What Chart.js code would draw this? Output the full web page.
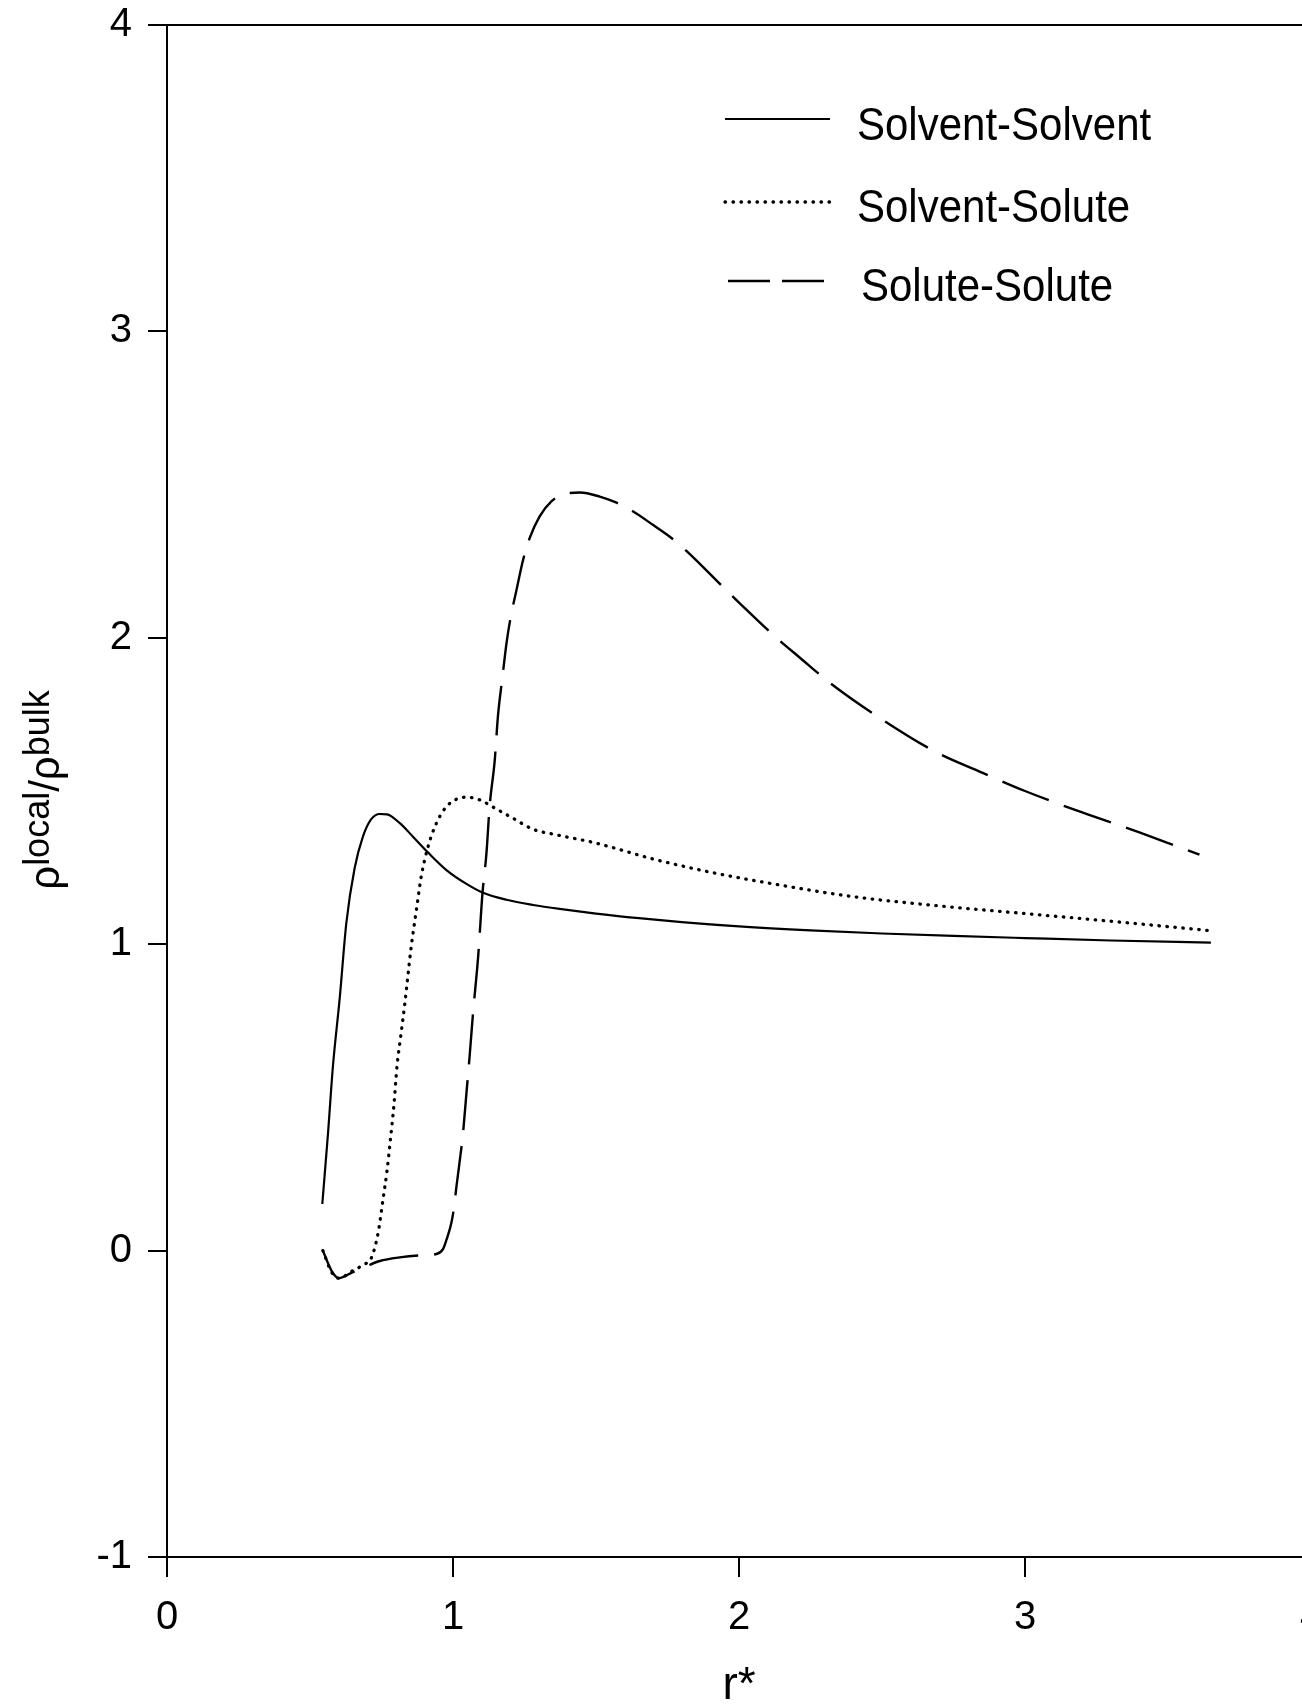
<!DOCTYPE html>
<html>
<head>
<meta charset="utf-8">
<script src="https://cdn.jsdelivr.net/npm/chart.js@4/dist/chart.umd.min.js"></script>
<style>
  html, body { margin: 0; padding: 0; overflow: hidden; background: #fff; width: 1302px; height: 1705px; }
  #wrap { position: absolute; left: 0; top: 0; width: 1340px; height: 1705px; }
  canvas { display: block; }
</style>
</head>
<body>
<div id="wrap"><canvas id="chart" width="1340" height="1705"></canvas></div>
<script>
// Local-to-bulk density ratio around a molecule as a function of reduced distance r*

const seriesLabels = ['Solvent-Solvent', 'Solvent-Solute', 'Solute-Solute'];

const solventSolventR = [0.543, 0.563, 0.580, 0.604, 0.627, 0.656, 0.685, 0.714, 0.744, 0.769, 0.814, 0.860,
  0.913, 0.977, 1.047, 1.105, 1.187, 1.280, 1.373, 1.50, 1.65, 1.80, 2.00, 2.25, 2.50, 2.75, 3.00, 3.30, 3.65];
const solventSolventG = [0.152, 0.383, 0.600, 0.825, 1.069, 1.248, 1.351, 1.408, 1.425, 1.424, 1.395, 1.351,
  1.299, 1.242, 1.197, 1.168, 1.145, 1.128, 1.115, 1.100, 1.085, 1.072, 1.058, 1.045, 1.035, 1.027, 1.020, 1.012, 1.005];

const solventSoluteR = [0.545, 0.575, 0.600, 0.650, 0.690, 0.714, 0.738, 0.755, 0.769, 0.781, 0.793, 0.804,
  0.817, 0.831, 0.854, 0.872, 0.889, 0.913, 0.942, 0.977, 1.012, 1.047, 1.093, 1.152, 1.210, 1.280, 1.362,
  1.50, 1.70, 1.90, 2.10, 2.40, 2.70, 3.00, 3.30, 3.64];
const solventSoluteG = [0.000, -0.070, -0.090, -0.065, -0.045, -0.025, 0.057, 0.165, 0.258, 0.361, 0.470, 0.600,
  0.698, 0.802, 0.992, 1.112, 1.221, 1.319, 1.395, 1.449, 1.473, 1.480, 1.471, 1.441, 1.411, 1.375, 1.357,
  1.330, 1.278, 1.235, 1.200, 1.155, 1.125, 1.100, 1.075, 1.045];

const soluteSoluteR = [0.545, 0.575, 0.601, 0.650, 0.700, 0.744, 0.814, 0.880, 0.942, 0.965, 0.977, 0.994,
  1.004, 1.012, 1.021, 1.035, 1.047, 1.058, 1.070, 1.088, 1.103, 1.117, 1.128, 1.146, 1.157, 1.173, 1.187,
  1.202, 1.222, 1.245, 1.268, 1.303, 1.344, 1.391, 1.443, 1.513, 1.572, 1.630, 1.700, 1.758, 1.817, 1.945,
  2.000, 2.132, 2.213, 2.318, 2.493, 2.685, 2.85, 3.00, 3.20, 3.40, 3.61];
const soluteSoluteG = [0.000, -0.065, -0.090, -0.070, -0.050, -0.034, -0.022, -0.016, -0.011, 0.005, 0.035, 0.089,
  0.144, 0.209, 0.274, 0.383, 0.514, 0.633, 0.775, 0.960, 1.166, 1.297, 1.449, 1.601, 1.743, 1.873, 1.982,
  2.069, 2.156, 2.254, 2.325, 2.396, 2.445, 2.470, 2.474, 2.461, 2.441, 2.412, 2.368, 2.330, 2.283, 2.165,
  2.115, 1.999, 1.935, 1.853, 1.738, 1.629, 1.560, 1.500, 1.430, 1.365, 1.292];

const xTicks = [0, 1, 2, 3, 4];
const yTicks = [-1, 0, 1, 2, 3, 4];
const xTitle = 'r*';
// y title pieces: [text, isSuperscript]
const yTitleParts = [['ρ', false], ['local', true], ['/', false], ['ρ', false], ['bulk', true]];

const FONT = '"Liberation Sans", Arial, Helvetica, sans-serif';
const toPoints = (xs, ys) => xs.map((x, i) => ({ x: x, y: ys[i] }));

// Legend sample placement (canvas pixels)
const legendLayout = [
  { x0: 725, x1: 830, y: 119, dash: [], tx: 857, ty: 140 },
  { x0: 725, x1: 830, y: 202, dash: [0.5, 7.5], tx: 857, ty: 222 },
  { x0: 728, x1: 824, y: 281, dash: [42, 12], tx: 861, ty: 301 }
];

const topFrame = {
  id: 'topFrame',
  afterDraw(chart) {
    const { ctx, chartArea } = chart;
    ctx.save();
    ctx.strokeStyle = '#000';
    ctx.lineWidth = 2;
    ctx.beginPath();
    ctx.moveTo(chartArea.left, chartArea.top);
    ctx.lineTo(chart.width, chartArea.top);
    ctx.stroke();
    ctx.restore();
  }
};

const sideLegend = {
  id: 'sideLegend',
  afterDatasetsDraw(chart) {
    const ctx = chart.ctx;
    ctx.save();
    chart.data.datasets.forEach((ds, i) => {
      const L = legendLayout[i];
      ctx.beginPath();
      ctx.strokeStyle = '#000';
      ctx.lineWidth = ds.borderWidth;
      ctx.lineCap = ds.borderCapStyle || 'butt';
      ctx.setLineDash(L.dash);
      ctx.moveTo(L.x0, L.y);
      ctx.lineTo(L.x1, L.y);
      ctx.stroke();
      ctx.setLineDash([]);
      ctx.save();
      ctx.translate(L.tx, L.ty);
      ctx.scale(1, 1.1);
      ctx.font = '42px ' + FONT;
      ctx.textBaseline = 'alphabetic';
      ctx.textAlign = 'left';
      ctx.fillStyle = '#000';
      ctx.fillText(ds.label, 0, 0);
      ctx.restore();
    });
    ctx.restore();
  }
};

const yAxisTitle = {
  id: 'yAxisTitle',
  afterDraw(chart) {
    const ctx = chart.ctx;
    const mainFont = '42px ' + FONT;
    const supFont = '36px ' + FONT;
    ctx.save();
    let total = 0;
    yTitleParts.forEach(([t, sup]) => { ctx.font = sup ? supFont : mainFont; total += ctx.measureText(t).width; });
    const cy = 790;
    ctx.translate(59, cy);
    ctx.rotate(-Math.PI / 2);
    ctx.fillStyle = '#000';
    ctx.textBaseline = 'alphabetic';
    ctx.textAlign = 'left';
    let u = -total / 2;
    yTitleParts.forEach(([t, sup]) => {
      ctx.font = sup ? supFont : mainFont;
      ctx.fillText(t, u, sup ? -10 : 0);
      u += ctx.measureText(t).width;
    });
    ctx.restore();
  }
};

new Chart(document.getElementById('chart'), {
  type: 'line',
  data: {
    datasets: [
      {
        label: seriesLabels[0],
        data: toPoints(solventSolventR, solventSolventG),
        borderColor: '#000', borderWidth: 2.2, pointRadius: 0,
        cubicInterpolationMode: 'monotone', fill: false
      },
      {
        label: seriesLabels[1],
        data: toPoints(solventSoluteR, solventSoluteG),
        borderColor: '#000', borderWidth: 3.3, borderDash: [0.5, 7.5], borderCapStyle: 'round',
        pointRadius: 0, cubicInterpolationMode: 'monotone', fill: false
      },
      {
        label: seriesLabels[2],
        data: toPoints(soluteSoluteR, soluteSoluteG),
        borderColor: '#000', borderWidth: 2.4, borderDash: [50, 16],
        pointRadius: 0, cubicInterpolationMode: 'monotone', fill: false
      }
    ]
  },
  options: {
    responsive: false,
    animation: false,
    devicePixelRatio: 1,
    layout: { padding: { top: 25, right: 29, left: 0, bottom: 0 } },
    plugins: { legend: { display: false }, tooltip: { enabled: false } },
    scales: {
      x: {
        type: 'linear', min: 0, max: 4,
        afterBuildTicks: s => { s.ticks = xTicks.map(v => ({ value: v })); },
        afterFit: s => { s.height = 148; s.paddingLeft = 0; s.paddingRight = 0; },
        grid: { drawOnChartArea: false, drawTicks: true, tickLength: 20, color: '#000', lineWidth: 2 },
        border: { display: true, color: '#000', width: 2 },
        ticks: { color: '#000', font: { family: FONT, size: 40 }, padding: 17, maxRotation: 0, autoSkip: false,
                 callback: v => String(v) },
        title: { display: true, text: xTitle, color: '#000', font: { family: FONT, size: 46, lineHeight: 0.82 }, padding: 0 }
      },
      y: {
        type: 'linear', min: -1, max: 4,
        afterBuildTicks: s => { s.ticks = yTicks.map(v => ({ value: v })); },
        afterFit: s => { s.width = 167; s.paddingTop = 0; s.paddingBottom = 0; },
        grid: { drawOnChartArea: false, drawTicks: true, tickLength: 19, color: '#000', lineWidth: 2 },
        border: { display: true, color: '#000', width: 2 },
        ticks: { color: '#000', font: { family: FONT, size: 40 }, padding: 16, autoSkip: false,
                 callback: v => String(v) }
      }
    }
  },
  plugins: [topFrame, sideLegend, yAxisTitle]
});
</script>
</body>
</html>
